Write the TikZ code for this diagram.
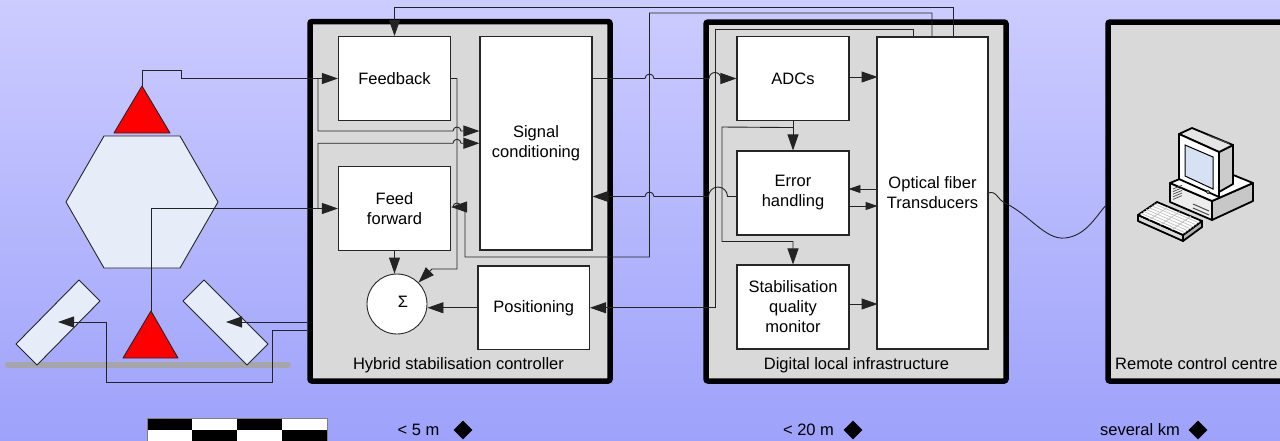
\documentclass[tikz,border=0pt]{standalone}
\usepackage{fontspec}
\setmainfont{Liberation Sans}
\usetikzlibrary{arrows.meta,calc,shapes.geometric}
\definecolor{bgtop}{RGB}{204,204,255}
\definecolor{bgbot}{RGB}{158,162,250}
\definecolor{panel}{RGB}{217,217,217}
\definecolor{wire}{RGB}{35,35,35}
\definecolor{optic}{RGB}{230,236,248}
\definecolor{ground}{RGB}{166,166,166}
\definecolor{screen}{RGB}{214,226,244}
\tikzset{
  txt/.style={font=\fontsize{16.5}{20}\selectfont},
  blk/.style={txt, draw=black!85, line width=1.1pt, fill=white, align=center, inner sep=0pt},
  outer/.style={draw=black, line width=5.5pt, fill=panel, rounded corners=2pt, inner sep=0pt},
  wr/.style={draw=wire, line width=0.9pt},
  arr/.style={wr, -{Triangle[length=16pt,width=11pt]}},
  sarr/.style={wr, -{Triangle[length=12pt,width=8pt]}},
  lbl/.style={txt, inner sep=0pt},
  shapeln/.style={draw=black!85, line width=0.9pt, line join=round},
  dia/.style={diamond, fill=black, minimum size=19pt, inner sep=0pt},
  pc/.style={draw=black, line width=1.8pt, line join=round},
}
\begin{document}
\begin{tikzpicture}[x=1pt,y=1pt]
\useasboundingbox (0,0) rectangle (1280,-440);
\shade[top color=bgtop, bottom color=bgbot] (0,0) rectangle (1280,-440);

% ---------- scene on the left ----------
\draw[ground, line width=6pt, line cap=round] (8,-365) -- (288,-365);
\draw[shapeln, fill=optic] (79,-280) -- (100,-301) -- (37,-365) -- (16,-344) -- cycle;
\draw[shapeln, fill=optic] (204,-280) -- (183,-301) -- (247,-365) -- (268,-344) -- cycle;
\draw[shapeln, fill=optic] (66,-202) -- (104,-136) -- (180,-136) -- (218,-202) -- (180,-268) -- (104,-268) -- cycle;
\draw[shapeln, fill=red] (142,-86) -- (170,-133) -- (114,-133) -- cycle;
\draw[shapeln, fill=red] (151,-311) -- (178,-358) -- (123,-358) -- cycle;
\coordinate (ttop) at (142,-86);
\coordinate (btop) at (151,-311);
\coordinate (lmir) at (58,-322);
\coordinate (rmir) at (226,-322);

% ---------- outer panels ----------
\node[outer, minimum width=300pt, minimum height=359.5pt] (hsc) at (460,-201.25) {};
\node[outer, minimum width=300pt, minimum height=359pt] (dli) at (856,-201.5) {};
\node[outer, minimum width=212pt, minimum height=359pt] (rcc) at (1214,-201.5) {};
\node[lbl, anchor=base] (hsclbl) at (458.5,-369) {Hybrid stabilisation controller};
\node[lbl, anchor=base] (dlilbl) at (856.5,-369) {Digital local infrastructure};
\node[lbl, anchor=base west] (rcclbl) at (1115,-369) {Remote control centre};

% ---------- blocks ----------
\node[blk, minimum width=112pt, minimum height=84pt] (fb) at (394.5,-78.5) {Feedback};
\node[blk, minimum width=112pt, minimum height=213.5pt] (sc) at (536,-143.25) {Signal\\conditioning};
\node[blk, minimum width=112pt, minimum height=84pt] (ff) at (394.5,-208.5) {Feed\\forward};
\node[blk, minimum width=111.5pt, minimum height=83.5pt] (pos) at (533.75,-307.75) {Positioning};
\node[draw=black!85, line width=0.9pt, fill=white, circle, minimum size=60pt, inner sep=0pt] (sum) at (397,-304) {};
\node[lbl] (sigma) at (403,-302) {Σ};
\node[blk, minimum width=112pt, minimum height=84pt] (adc) at (793,-78.5) {ADCs};
\node[blk, minimum width=112pt, minimum height=84pt] (eh) at (793,-193) {Error\\handling};
\node[blk, minimum width=112pt, minimum height=84pt] (sqm) at (793,-307) {Stabilisation\\quality\\monitor};
\node[blk, minimum width=111pt, minimum height=312pt] (opt) at (932.5,-193) {Optical fiber\\Transducers};

% ---------- wires ----------
\draw[arr] (ttop) |- (181,-70) |- (fb.west);
\draw[arr] (318,-78.5) -- (318,-131) -- (453,-131) arc[start angle=180,end angle=0,radius=4] -- ($(sc.west)+(0,12.25)$);
\draw[arr] (btop) |- (ff.west);
\draw[arr] (318,-208.5) -- (318,-143.25) -- (453,-143.25) arc[start angle=180,end angle=0,radius=4] -- (sc.west);
\draw[arr] (fb.east) -- (457,-78.5) -- (457,-269) -- (432,-269) -- (sum.45);
\draw[arr] ($(opt.north)+(20.5,0)$) -- (953,-7) -| (fb.north);
\draw[arr] ($(opt.north)+(-0.5,0)$) -- (932,-13) -- (649.5,-13) -- (649.5,-257) -- (465,-257) -- (465,-207) -- (461,-207) arc[start angle=0,end angle=180,radius=4] -- ($(ff.east)+(0,1.5)$);
\draw[arr] ($(sc.east)+(0,64.75)$) -- (645,-78.5) arc[start angle=180,end angle=0,radius=4.5] -- (709,-78.5) arc[start angle=180,end angle=0,radius=6] -- (adc.west);
\draw[arr] ($(eh.west)+(0,-3.5)$) -- (727.5,-196.5) arc[start angle=0,end angle=180,radius=9.5] -- (654,-196.5) arc[start angle=0,end angle=180,radius=4.5] -- ($(sc.east)+(0,-53.25)$);
\draw[arr] ($(opt.north)+(-19.5,0)$) -- (913,-29) -- (715,-29) -- (715,-307.75) -- (pos.east);
\draw[arr] (adc.south) -- (eh.north);
\draw[arr] ($(adc.south)+(0,-6.5)$) -- (722,-127) -- (722,-241.5) -- (793,-241.5) -- (sqm.north);
\draw[arr] ($(adc.east)+(0,1.5)$) -- ++(28,0);
\draw[sarr] ($(opt.west)+(0,4)$) -- ++(-28,0);
\draw[sarr] ($(eh.east)+(0,-13)$) -- ++(28,0);
\draw[arr] ($(sqm.east)+(0,3)$) -- ++(28,0);
\draw[arr] (ff.south) -- (ff.south |- sum.north);
\draw[arr] (pos.west) -- (pos.west -| sum.east);
\draw[wr] (opt.east) .. controls (996,-190) and (998,-200) .. (1005,-203)
  .. controls (1030,-215) and (1045,-240) .. (1065,-238)
  .. controls (1085,-236) and (1095,-218) .. ($(rcc.west)+(0,-4.5)$);
\draw[arr] ($(hsc.west)+(0,-120.75)$) -- (rmir);
\draw[arr] ($(hsc.west)+(0,-128.75)$) -- (272,-330) -- (272,-382) -- (106,-382) -- (106,-322) -- (lmir);

% ---------- computer icon ----------
\draw[pc, fill=white!93!black] (1170,-183) -- (1212,-201) -- (1212,-220) -- (1170,-202) -- cycle;
\draw[pc, fill=white!78!black] (1212,-201) -- (1253,-183) -- (1253,-201) -- (1212,-220) -- cycle;
\draw[pc, fill=white] (1170,-183) -- (1211,-166) -- (1253,-183) -- (1212,-201) -- cycle;
\draw[pc, fill=white!80!black] (1219,-152) -- (1233,-145) -- (1233,-184) -- (1219,-192) -- cycle;
\draw[pc, fill=white!90!black] (1179,-134) -- (1192,-128) -- (1233,-145) -- (1219,-152) -- cycle;
\foreach \k in {0,...,5} { \draw[black!70, line width=0.7pt] ($(1207,-135)+(\k*3.2,-1.2*\k)$) -- ++(6,-2.6); }
\draw[pc, fill=white] (1179,-134) -- (1219,-152) -- (1219,-197) -- (1179,-179) -- cycle;
\draw[black, line width=1pt, fill=screen] (1185,-145) -- (1213,-157) -- (1213,-189) -- (1185,-176) -- cycle;
\draw[black, line width=0.8pt, fill=white] (1208,-192) circle (1.6);
\foreach \k in {0,...,4} { \draw[black!70, line width=0.7pt] ($(1173,-189)+(0,-2.6*\k)$) -- ++(9,3.8); }
\draw[black!70, line width=1pt] (1193,-204) -- (1209,-211);
\draw[black!70, line width=1pt] (1193,-208) -- (1209,-215);
\draw[pc, fill=white!85!black] (1138,-215) -- (1183,-235) -- (1183,-241) -- (1138,-221) -- cycle;
\draw[pc, fill=white!70!black] (1183,-235) -- (1202,-221) -- (1202,-227) -- (1183,-241) -- cycle;
\draw[pc, fill=white] (1138,-215) -- (1157,-202) -- (1202,-221) -- (1183,-235) -- cycle;
\foreach \k in {1,...,3} { \draw[black!25, line width=0.7pt] ($(1138,-215)!\k/4!(1183,-235)$) -- ($(1157,-202)!\k/4!(1202,-221)$); }
\foreach \k in {1,...,6} { \draw[black!25, line width=0.7pt] ($(1138,-215)!\k/7!(1157,-202)$) -- ($(1183,-235)!\k/7!(1202,-221)$); }

% ---------- scale bar and distances ----------
\foreach \i/\c/\d in {0/black/white,1/white/black,2/black/white,3/white/black} {
  \fill[\c] (147+45*\i,-418) rectangle (192+45*\i,-430);
  \fill[\d] (147+45*\i,-430) rectangle (192+45*\i,-441);
}
\draw[black!50, line width=0.6pt] (147,-441) -- (147,-418) -- (327,-418) -- (327,-441);
\node[lbl, anchor=base] (d5) at (418.5,-435) {< 5 m};
\node[dia] (dm5) at (463,-430) {};
\node[lbl, anchor=base] (d20) at (808.5,-435) {< 20 m};
\node[dia] (dm20) at (853,-430) {};
\node[lbl, anchor=base] (dkm) at (1140,-435) {several km};
\node[dia] (dmkm) at (1198,-430) {};
\end{tikzpicture}
\end{document}
